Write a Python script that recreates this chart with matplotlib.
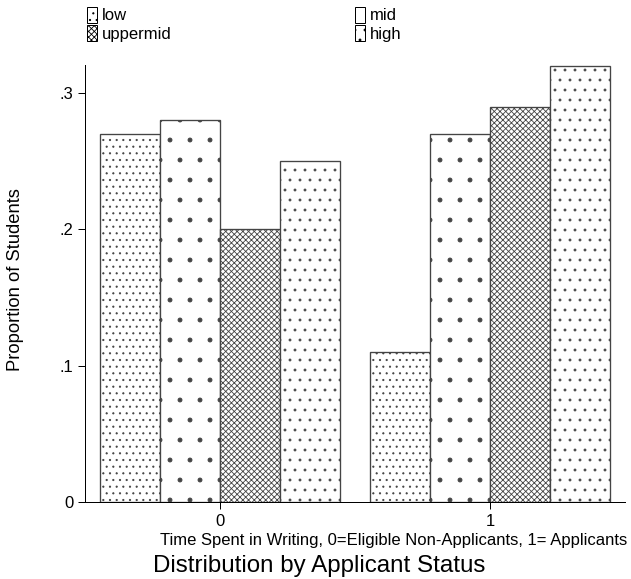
import numpy as np
import matplotlib
matplotlib.use('Agg')
import matplotlib.pyplot as plt
from matplotlib.patches import Patch

# data
groups = ['0', '1']
levels = ['low', 'mid', 'uppermid', 'high']
props = {
    'low':      [0.27, 0.11],
    'mid':      [0.28, 0.27],
    'uppermid': [0.20, 0.29],
    'high':     [0.25, 0.32],
}
yticks = [0, 0.1, 0.2, 0.3]
yticklabels = ['0', '.1', '.2', '.3']
hatches = {'low': '...', 'mid': '.', 'uppermid': 'xxxxxxx', 'high': '..'}

plt.rcParams['font.family'] = ['Liberation Sans', 'DejaVu Sans']
plt.rcParams['hatch.linewidth'] = 0.5
plt.rcParams['hatch.color'] = 'black'

dpi = 120
fs = 10
fig = plt.figure(figsize=(631/dpi, 579/dpi), dpi=dpi)
ax = fig.add_axes([85/631, 77/579, 540/631, 437/579])

x = np.arange(len(groups))
w = 60/270
for k, lev in enumerate(levels):
    ax.bar(x + (k - 1.5)*w, props[lev], width=w, color='white',
           edgecolor='#444444', linewidth=0.8, hatch=hatches[lev])

ax.set_xlim(-0.5, 1.5)
ax.set_ylim(0, 0.3205)
ax.set_xticks(x)
ax.set_xticklabels(groups, fontsize=fs)
ax.set_yticks(yticks)
ax.set_yticklabels(yticklabels, fontsize=fs)
ax.tick_params(direction='out', length=4, width=0.6, pad=3)
for s in ['top', 'right']:
    ax.spines[s].set_visible(False)
for s in ['left', 'bottom']:
    ax.spines[s].set_linewidth(0.6)

fig.text(16/631, 1 - 280/579, 'Proportion of Students', rotation=90,
         ha='center', va='center', fontsize=11)
fig.text(627/631, 1 - 541/579, 'Time Spent in Writing, 0=Eligible Non-Applicants, 1= Applicants',
         ha='right', va='center', fontsize=fs)
fig.text(319/631, 1 - 566/579, 'Distribution by Applicant Status',
         ha='center', va='center', fontsize=14.5)

order = ['low', 'uppermid', 'mid', 'high']
handles = [Patch(facecolor='white', edgecolor='black', linewidth=0.6, hatch=hatches[l]) for l in order]
fig.legend(handles, order, loc='upper left', bbox_to_anchor=(80/631, 1.0),
           ncol=2, frameon=False, fontsize=fs, handlelength=0.6, handleheight=1.1,
           handletextpad=0.3, columnspacing=11.0, labelspacing=0.1, borderaxespad=0)

fig.savefig('out.png', dpi=dpi)
